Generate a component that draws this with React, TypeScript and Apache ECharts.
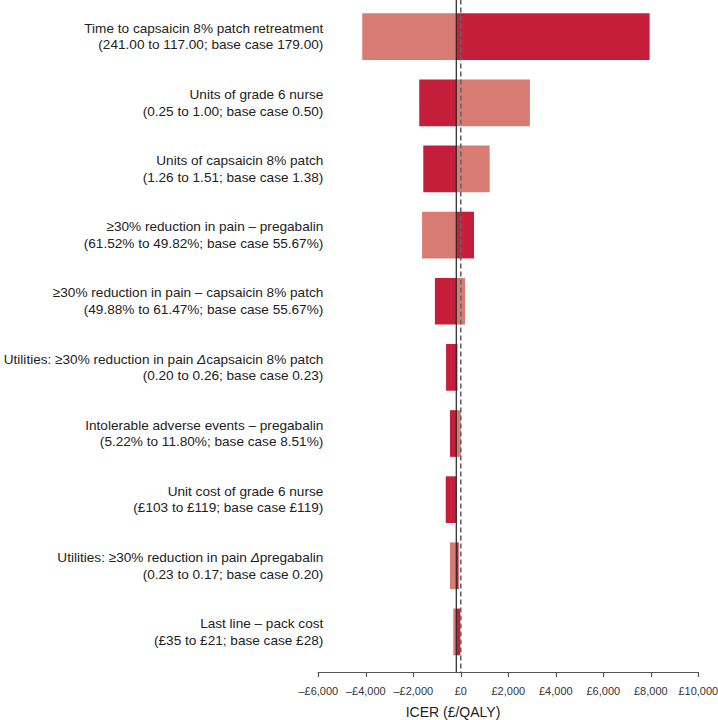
import React, { useEffect, useRef } from "react";
import * as echarts from "echarts";

const categories: string[] = [
  "Time to capsaicin 8% patch retreatment\n(241.00 to 117.00; base case 179.00)",
  "Units of grade 6 nurse\n(0.25 to 1.00; base case 0.50)",
  "Units of capsaicin 8% patch\n(1.26 to 1.51; base case 1.38)",
  "≥30% reduction in pain – pregabalin\n(61.52% to 49.82%; base case 55.67%)",
  "≥30% reduction in pain – capsaicin 8% patch\n(49.88% to 61.47%; base case 55.67%)",
  "Utilities: ≥30% reduction in pain Δcapsaicin 8% patch\n(0.20 to 0.26; base case 0.23)",
  "Intolerable adverse events – pregabalin\n(5.22% to 11.80%; base case 8.51%)",
  "Unit cost of grade 6 nurse\n(£103 to £119; base case £119)",
  "Utilities: ≥30% reduction in pain Δpregabalin\n(0.23 to 0.17; base case 0.20)",
  "Last line – pack cost\n(£35 to £21; base case £28)",
];

const lowEnd: number[] = [-4150, -1750, -1580, -1630, -1090, -620, -455, -635, -455, -315];
const highEnd: number[] = [7950, 2910, 1215, 555, 180, -130, 0, -190, -90, -20];
const leftIsDark: boolean[] = [false, true, true, false, true, true, true, true, false, false];
const baseCase = -190;
const xTicks = { min: -6000, max: 10000, interval: 2000 };

const DARK = "#C41E3A";
const LIGHT = "#D87B73";
const FONT = "'Liberation Sans', Arial, sans-serif";
const LABEL_SIZE = 13.6;

export default function App() {
  const ref = useRef<HTMLDivElement>(null);
  useEffect(() => {
    if (!ref.current) return;
    const chart = echarts.init(ref.current, null, { renderer: "svg" });
    const barData = categories.map((_, i) => [lowEnd[i], highEnd[i], i]);
    chart.setOption({
      animation: false,
      grid: {
        left: 318.3,
        right: 19.7,
        top: 3.6,
        bottom: 55,
        containLabel: false,
        outerBoundsMode: "none",
      },
      xAxis: {
        type: "value",
        min: xTicks.min,
        max: xTicks.max,
        interval: xTicks.interval,
        offset: 7,
        axisLine: { show: true, lineStyle: { color: "#555", width: 1.2 } },
        axisTick: { show: true, length: 5, lineStyle: { color: "#555", width: 1.2 } },
        splitLine: { show: false },
        axisLabel: {
          fontFamily: FONT,
          fontSize: 11,
          color: "#333",
          margin: 13,
          formatter: (v: number) =>
            (v < 0 ? "–£" : "£") + Math.abs(v).toLocaleString("en-GB"),
        },
      },
      yAxis: {
        type: "category",
        data: categories,
        inverse: true,
        axisLine: { show: false },
        axisTick: { show: false },
        splitLine: { show: false },
        axisLabel: {
          fontFamily: FONT,
          fontSize: LABEL_SIZE,
          lineHeight: 16.5,
          color: "#222",
          margin: -5,
          align: "right",
          formatter: (v: string) =>
            v
              .split("\n")
              .map((line) =>
                line
                  .split("Δ")
                  .map((s) => (s ? "{n|" + s + "}" : ""))
                  .join("{i|Δ}")
              )
              .join("\n"),
          rich: {
            n: { fontFamily: FONT, fontSize: LABEL_SIZE, lineHeight: 16.5, color: "#222" },
            i: {
              fontFamily: FONT,
              fontSize: LABEL_SIZE,
              lineHeight: 16.5,
              color: "#222",
              fontStyle: "italic",
            },
          },
        },
      },
      graphic: [
        {
          type: "text",
          x: 453,
          y: 712,
          style: {
            text: "ICER (£/QALY)",
            fontFamily: FONT,
            fontSize: 14,
            fill: "#222",
            textAlign: "center",
            textVerticalAlign: "middle",
          },
        },
      ],
      series: [
        {
          type: "custom",
          z: 2,
          encode: { x: [0, 1], y: 2 },
          data: barData,
          renderItem: (params: any, api: any) => {
            const low = api.value(0);
            const high = api.value(1);
            const cat = api.value(2);
            const pLow = api.coord([low, cat]);
            const pBase = api.coord([baseCase, cat]);
            const pHigh = api.coord([high, cat]);
            const h = api.size([0, 1])[1] * 0.706;
            const y = pBase[1] - h / 2;
            const dark = leftIsDark[cat];
            const children: any[] = [];
            if (pBase[0] - pLow[0] > 0) {
              children.push({
                type: "rect",
                shape: { x: pLow[0], y, width: pBase[0] - pLow[0], height: h },
                style: { fill: dark ? DARK : LIGHT },
              });
            }
            if (pHigh[0] - pBase[0] > 0) {
              children.push({
                type: "rect",
                shape: { x: pBase[0], y, width: pHigh[0] - pBase[0], height: h },
                style: { fill: dark ? LIGHT : DARK },
              });
            }
            return { type: "group", children };
          },
        },
        {
          type: "custom",
          z: 5,
          encode: { x: 0, y: 1 },
          data: [
            [baseCase, 0, 0],
            [0, 0, 1],
          ],
          renderItem: (params: any, api: any) => {
            const x = api.coord([api.value(0), 0])[0];
            const cs = params.coordSys;
            const dashed = api.value(2) === 1;
            return {
              type: "line",
              shape: { x1: x, y1: cs.y - 4, x2: x, y2: cs.y + cs.height + 7 },
              style: dashed
                ? { stroke: "#666", lineWidth: 1.6, lineDash: [5, 3] }
                : { stroke: "#222", lineWidth: 1.2 },
            };
          },
        },
      ],
    });
    return () => chart.dispose();
  }, []);
  return (
    <div
      ref={ref}
      style={{ position: "fixed", left: 0, top: 0, width: 718, height: 720, background: "#fff" }}
    />
  );
}
